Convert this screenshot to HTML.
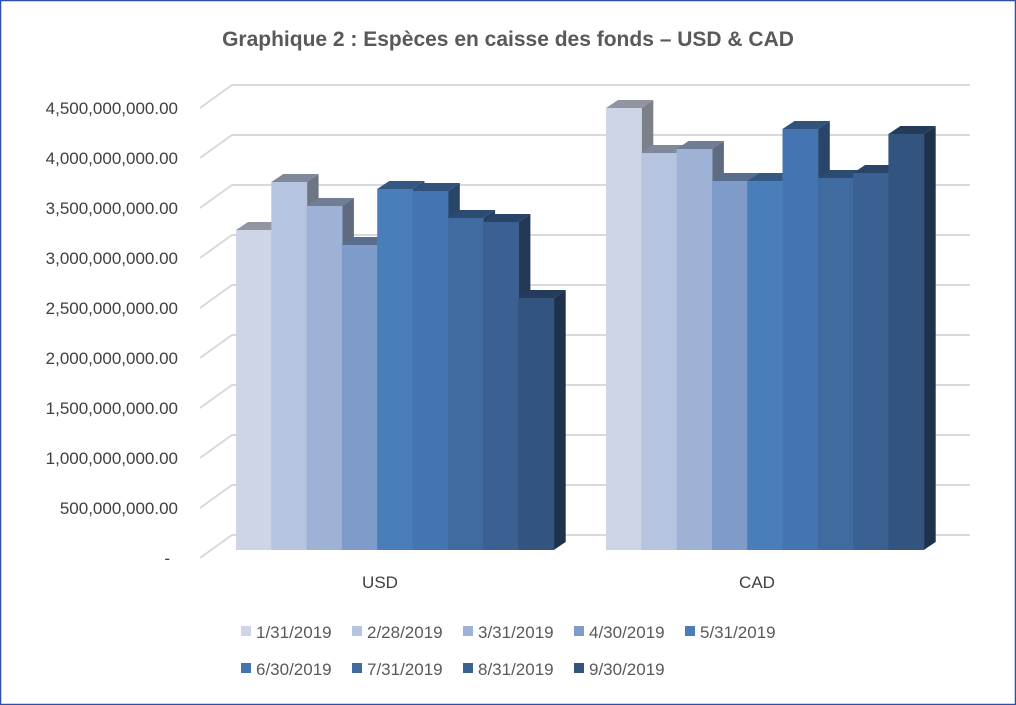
<!DOCTYPE html>
<html><head><meta charset="utf-8"><style>
body{margin:0;background:#fff;}
svg{display:block;font-family:"Liberation Sans",sans-serif;}
</style></head><body>
<svg width="1016" height="705" viewBox="0 0 1016 705" xmlns="http://www.w3.org/2000/svg">
<rect x="0.5" y="0.5" width="1015" height="704" fill="#fff" stroke="#2f4ea8" stroke-width="1.5"/>
<text x="508" y="46" text-anchor="middle" font-size="21" font-weight="bold" fill="#595959">Graphique 2 : Espèces en caisse des fonds – USD &amp; CAD</text>
<g id="grid" stroke="#d9d9d9" stroke-width="2" fill="none"></g>
<g id="labels" font-size="17" fill="#404040" text-anchor="end"></g>
<g id="bars"></g>
<text x="380" y="588" text-anchor="middle" font-size="17" fill="#404040">USD</text>
<text x="757" y="588" text-anchor="middle" font-size="17" fill="#404040">CAD</text>
<g id="legend" font-size="17" fill="#595959"></g>
</svg>
<script>
var ns="http://www.w3.org/2000/svg";
function el(p,t,a,txt){var e=document.createElementNS(ns,t);for(var k in a)e.setAttribute(k,a[k]);if(txt!=null)e.textContent=txt;document.getElementById(p).appendChild(e);}
var labs=["4,500,000,000.00","4,000,000,000.00","3,500,000,000.00","3,000,000,000.00","2,500,000,000.00","2,000,000,000.00","1,500,000,000.00","1,000,000,000.00","500,000,000.00","-"];
for(var i=0;i<10;i++){var y=85+i*50;
 el("grid","path",{d:"M200 "+(y+23)+" L232 "+y+" L970 "+y});
 el("labels","text",{x:i==9?170:178,y:y+29},labs[i]);}
var cols=["#cdd5e6","#b7c4df","#9eb2d5","#7f9bc9","#4a7ebb","#4575b0","#3f6ba0","#3a6191","#33547f"];
function shade(c,f){var n=parseInt(c.slice(1),16),r=n>>16,g=(n>>8)&255,b=n&255;return "rgb("+Math.round(r*f)+","+Math.round(g*f)+","+Math.round(b*f)+")";}
var groups=[[236,[230,182,206,245,189,191,218,222,298]],[606,[108,153,149,181,181,129,178,173,134]]];
var w=35.3,dx=12,dy=8,base=550;
groups.forEach(function(g){
 for(var i=0;i<9;i++){var x=g[0]+i*w,t=g[1][i],c=cols[i];
  el("bars","polygon",{points:(x+w)+","+base+" "+(x+w+dx)+","+(base-dy)+" "+(x+w+dx)+","+(t-dy)+" "+(x+w)+","+t,fill:shade(c,0.6)});
  el("bars","polygon",{points:x+","+t+" "+(x+dx)+","+(t-dy)+" "+(x+w+dx)+","+(t-dy)+" "+(x+w)+","+t,fill:shade(c,0.7)});
  el("bars","rect",{x:x,y:t,width:w+0.6,height:base-t,fill:c});
 }});
var leg=["1/31/2019","2/28/2019","3/31/2019","4/30/2019","5/31/2019","6/30/2019","7/31/2019","8/31/2019","9/30/2019"];
for(var i=0;i<9;i++){var r=i<5?0:1,k=i<5?i:i-5;var x=241+k*111,y=r?669:632;
 el("legend","rect",{x:x,y:y-6,width:10,height:10,fill:cols[i]});
 el("legend","text",{x:x+15,y:y+6},leg[i]);}
</script>
</body></html>
